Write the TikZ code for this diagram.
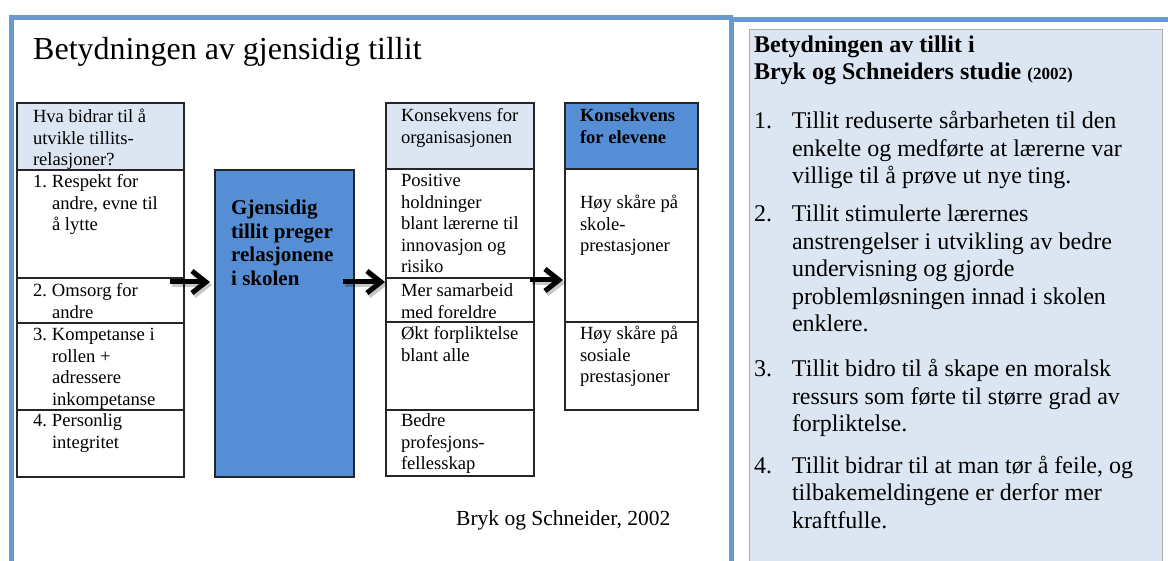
\documentclass[tikz,border=0pt]{standalone}
\usepackage{fontspec}
\setmainfont{Liberation Serif}
\usetikzlibrary{arrows.meta}
\definecolor{frameblue}{HTML}{6A9ACD}
\definecolor{lightblue}{HTML}{DCE6F2}
\definecolor{midblue}{HTML}{558ED5}
\definecolor{panelgray}{HTML}{ABABAB}
\newcommand\hg[1]{\hspace*{#1}}
\begin{document}
\begin{tikzpicture}[x=1pt,y=-1pt,
  cell/.style={draw=black!85, line width=1.1pt, anchor=north west, inner sep=0pt, outer sep=0pt},
  txt/.style={anchor=base west, inner sep=0pt, outer sep=0pt, font=\fontsize{18.6}{21.5}\selectfont},
  btxt/.style={txt, font=\fontsize{18.6}{21.5}\selectfont\bfseries},
  ptxt/.style={anchor=base west, inner sep=0pt, outer sep=0pt, font=\fontsize{24}{27.5}\selectfont},
  bigarrow/.style={line width=5pt, -{Straight Barb[length=14pt,width=22pt]}},
  arrowshadow/.style={bigarrow, draw=black, opacity=0.22}
]
\useasboundingbox (0,0) rectangle (1168,561);
% frames
\draw[frameblue, line width=5pt] (11.5,565) -- (11.5,17.5) -- (733,17.5);
\draw[frameblue, line width=5pt] (731.5,17) -- (731.5,565);
\draw[frameblue, line width=5pt] (731.5,19.5) -- (1170,19.5);
% right panel
\fill[lightblue] (749,30) rectangle (1162,565);
\draw[panelgray, line width=1pt] (749,565) -- (749,30) -- (1162,30) -- (1162,565);

% title
\node[anchor=base west, inner sep=0pt, font=\fontsize{32}{36}\selectfont] (title) at (33,60) {Betydningen av gjensidig tillit};

% column 1
\node[cell, fill=lightblue, minimum width=167pt, minimum height=67pt] (c1h) at (17,103) {};
\node[cell, minimum width=167pt, minimum height=108pt] (c1r1) at (17,170) {};
\node[cell, minimum width=167pt, minimum height=45pt] (c1r2) at (17,278) {};
\node[cell, minimum width=167pt, minimum height=87pt] (c1r3) at (17,323) {};
\node[cell, minimum width=167pt, minimum height=67pt] (c1r4) at (17,410) {};
\node[txt] (t1h) at (33,123) {\parbox[t]{200pt}{Hva bidrar til å\\utvikle tillits-\\relasjoner?}};
\node[txt] (t1r1) at (33,188) {\parbox[t]{200pt}{\makebox[19pt][l]{1.}Respekt for\\\hg{19pt}andre, evne til\\\hg{19pt}å lytte}};
\node[txt] (t1r2) at (33,297) {\parbox[t]{200pt}{\makebox[19pt][l]{2.}Omsorg for\\\hg{19pt}andre}};
\node[txt] (t1r3) at (33,341) {\parbox[t]{200pt}{\makebox[19pt][l]{3.}Kompetanse i\\\hg{19pt}rollen +\\\hg{19pt}adressere\\\hg{19pt}inkompetanse}};
\node[txt] (t1r4) at (33,427) {\parbox[t]{200pt}{\makebox[19pt][l]{4.}Personlig\\\hg{19pt}integritet}};

% center
\node[cell, fill=midblue, minimum width=139pt, minimum height=307pt] (center) at (215,170) {};
\node[anchor=base west, inner sep=0pt, font=\fontsize{21}{23.5}\selectfont\bfseries] (tc) at (231,215) {\parbox[t]{200pt}{Gjensidig\\tillit preger\\relasjonene\\i skolen}};

% column 3
\node[cell, fill=lightblue, minimum width=148pt, minimum height=66pt] (c3h) at (386,103) {};
\node[cell, minimum width=148pt, minimum height=109pt] (c3r1) at (386,169) {};
\node[cell, minimum width=148pt, minimum height=44pt] (c3r2) at (386,278) {};
\node[cell, minimum width=148pt, minimum height=88pt] (c3r3) at (386,322) {};
\node[cell, minimum width=148pt, minimum height=66pt] (c3r4) at (386,410) {};
\node[txt] (t3h) at (401,122) {\parbox[t]{200pt}{Konsekvens for\\organisasjonen}};
\node[txt] (t3r1) at (401,187) {\parbox[t]{200pt}{Positive\\holdninger\\blant lærerne til\\innovasjon og\\risiko}};
\node[txt] (t3r2) at (401,297) {\parbox[t]{200pt}{Mer samarbeid\\med foreldre}};
\node[txt] (t3r3) at (401,340) {\parbox[t]{200pt}{Økt forpliktelse\\blant alle}};
\node[txt] (t3r4) at (401,427) {\parbox[t]{200pt}{Bedre\\profesjons-\\fellesskap}};

% column 4
\node[cell, fill=midblue, minimum width=133pt, minimum height=66pt] (c4h) at (565,103) {};
\node[cell, minimum width=133pt, minimum height=153pt] (c4r1) at (565,169) {};
\node[cell, minimum width=133pt, minimum height=88pt] (c4r2) at (565,322) {};
\node[btxt] (t4h) at (580,122) {\parbox[t]{200pt}{Konsekvens\\for elevene}};
\node[txt] (t4r1) at (580,209) {\parbox[t]{200pt}{Høy skåre på\\skole-\\prestasjoner}};
\node[txt] (t4r2) at (580,340) {\parbox[t]{200pt}{Høy skåre på\\sosiale\\prestasjoner}};

% arrows
\coordinate (a1s) at ([xshift=-14pt,yshift=-4pt]c1r2.north east);
\coordinate (a2s) at ([xshift=-11pt]center.east |- a1s);
\coordinate (a3s) at ([xshift=-4pt,yshift=-2pt]c3r2.north east);
\begin{scope}[transform canvas={shift={(2pt,-3pt)}}]
\draw[arrowshadow] (a1s) -- ([xshift=-5pt]center.west |- a1s);
\draw[arrowshadow] (a2s) -- ([xshift=-1pt]c3r2.west |- a2s);
\draw[arrowshadow] (a3s) -- ([xshift=-2pt]c4r1.west |- a3s);
\end{scope}
\draw[bigarrow] (a1s) -- ([xshift=-5pt]center.west |- a1s);
\draw[bigarrow] (a2s) -- ([xshift=-1pt]c3r2.west |- a2s);
\draw[bigarrow] (a3s) -- ([xshift=-2pt]c4r1.west |- a3s);

% citation
\node[anchor=base west, inner sep=0pt, font=\fontsize{21.5}{24}\selectfont] (cite) at (456,525) {Bryk og Schneider, 2002};

% right panel text
\node[ptxt, font=\fontsize{24}{27}\selectfont\bfseries] (ph) at (754,53) {\parbox[t]{400pt}{Betydningen av tillit i\\Bryk og Schneiders studie {\fontsize{17}{20}\selectfont (2002)}}};
\node[ptxt] (p1) at (754,129) {\parbox[t]{400pt}{\makebox[38pt][l]{1.}Tillit reduserte sårbarheten til den\\\hg{38pt}enkelte og medførte at lærerne var\\\hg{38pt}villige til å prøve ut nye ting.}};
\node[ptxt] (p2) at (754,222) {\parbox[t]{400pt}{\makebox[38pt][l]{2.}Tillit stimulerte lærernes\\\hg{38pt}anstrengelser i utvikling av bedre\\\hg{38pt}undervisning og gjorde\\\hg{38pt}problemløsningen innad i skolen\\\hg{38pt}enklere.}};
\node[ptxt] (p3) at (754,377) {\parbox[t]{400pt}{\makebox[38pt][l]{3.}Tillit bidro til å skape en moralsk\\\hg{38pt}ressurs som førte til større grad av\\\hg{38pt}forpliktelse.}};
\node[ptxt] (p4) at (754,473) {\parbox[t]{400pt}{\makebox[38pt][l]{4.}Tillit bidrar til at man tør å feile, og\\\hg{38pt}tilbakemeldingene er derfor mer\\\hg{38pt}kraftfulle.}};
\end{tikzpicture}
\end{document}
